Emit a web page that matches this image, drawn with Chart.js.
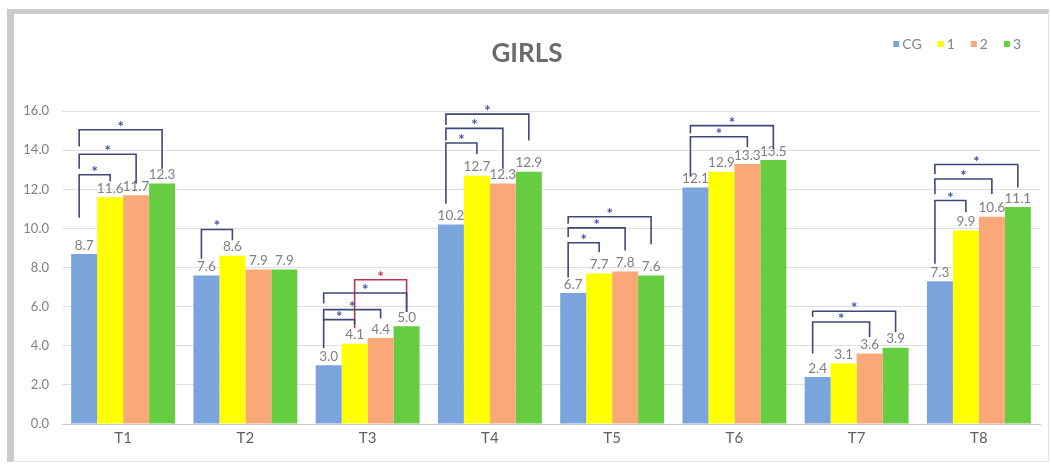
<!DOCTYPE html>
<html>
<head>
<meta charset="utf-8">
<script src="https://cdn.jsdelivr.net/npm/chart.js@4/dist/chart.umd.min.js"></script>
<style>
  html, body { margin: 0; padding: 0; background: #ffffff; }
  #wrap { position: relative; width: 1051px; height: 464px; overflow: hidden; }
  #frame {
    position: absolute; left: 7px; top: 9px; width: 1034px; height: 447px;
    border-left: 7px solid #cbcbcb; border-top: 5px solid #cbcbcb;
    border-right: 1px solid #e4e4e4; border-bottom: 1px solid #e4e4e4;
  }
  #chart { position: absolute; left: 0; top: 0; }
</style>
</head>
<body>
<div id="wrap">
  <div id="frame"></div>
  <canvas id="chart" width="1051" height="464"></canvas>
</div>
<script>
// Test categories and group means
const categories = ['T1', 'T2', 'T3', 'T4', 'T5', 'T6', 'T7', 'T8'];
const seriesNames = ['CG', '1', '2', '3'];
const cgValues    = [8.7, 7.6, 3.0, 10.2, 6.7, 12.1, 2.4, 7.3];
const g1Values    = [11.6, 8.6, 4.1, 12.7, 7.7, 12.9, 3.1, 9.9];
const g2Values    = [11.7, 7.9, 4.4, 12.3, 7.8, 13.3, 3.6, 10.6];
const g3Values    = [12.3, 7.9, 5.0, 12.9, 7.6, 13.5, 3.9, 11.1];
const yTicks      = [0, 2, 4, 6, 8, 10, 12, 14, 16];
const seriesColors = ['#7ba3dc', '#ffff00', '#fba878', '#66cc40'];

// Significance brackets: category, from-series, to-series,
// bracket height, where the left and right legs end (axis units), colour
const sigBrackets = [
  { cat: 0, from: 0, to: 3, top: 15.05, leftEnd: 14.2,  rightEnd: 13.05, red: false },
  { cat: 0, from: 0, to: 2, top: 13.8,  leftEnd: 13.05, rightEnd: 12.3,  red: false },
  { cat: 0, from: 0, to: 1, top: 12.75, leftEnd: 10.55, rightEnd: 12.4,  red: false },
  { cat: 1, from: 0, to: 1, top: 9.95,  leftEnd: 8.45,  rightEnd: 9.4,   red: false },
  { cat: 2, from: 1, to: 3, top: 7.38,  leftEnd: 4.9,   rightEnd: 5.73,  red: true  },
  { cat: 2, from: 0, to: 3, top: 6.7,   leftEnd: 6.17,  rightEnd: 5.73,  red: false },
  { cat: 2, from: 0, to: 2, top: 5.85,  leftEnd: 5.3,   rightEnd: 5.4,   red: false },
  { cat: 2, from: 0, to: 1, top: 5.34,  leftEnd: 3.88,  rightEnd: 5.1,   red: false },
  { cat: 3, from: 0, to: 3, top: 15.85, leftEnd: 15.3,  rightEnd: 14.5,  red: false },
  { cat: 3, from: 0, to: 2, top: 15.12, leftEnd: 14.5,  rightEnd: 13.06, red: false },
  { cat: 3, from: 0, to: 1, top: 14.37, leftEnd: 11.27, rightEnd: 13.8,  red: false },
  { cat: 4, from: 0, to: 3, top: 10.6,  leftEnd: 10.24, rightEnd: 9.2,   red: false },
  { cat: 4, from: 0, to: 2, top: 10.03, leftEnd: 9.56,  rightEnd: 8.88,  red: false },
  { cat: 4, from: 0, to: 1, top: 9.27,  leftEnd: 7.5,   rightEnd: 8.79,  red: false },
  { cat: 5, from: 0, to: 3, top: 15.26, leftEnd: 14.87, rightEnd: 14.07, red: false },
  { cat: 5, from: 0, to: 2, top: 14.69, leftEnd: 12.65, rightEnd: 14.15, red: false },
  { cat: 6, from: 0, to: 3, top: 5.77,  leftEnd: 5.47,  rightEnd: 4.71,  red: false },
  { cat: 6, from: 0, to: 2, top: 5.22,  leftEnd: 3.6,   rightEnd: 4.45,  red: false },
  { cat: 7, from: 0, to: 3, top: 13.27, leftEnd: 12.79, rightEnd: 12.1,  red: false },
  { cat: 7, from: 0, to: 2, top: 12.53, leftEnd: 11.77, rightEnd: 11.77, red: false },
  { cat: 7, from: 0, to: 1, top: 11.43, leftEnd: 8.2,   rightEnd: 10.83, red: false }
];

const FONT = 'Lato, "Open Sans", sans-serif';
const allValues = [cgValues, g1Values, g2Values, g3Values];

// Value labels above each bar
const valueLabels = {
  id: 'valueLabels',
  afterDatasetsDraw(chart) {
    const ctx = chart.ctx;
    ctx.save();
    ctx.font = '13.5px ' + FONT;
    ctx.fillStyle = '#808080';
    ctx.textAlign = 'center';
    ctx.textBaseline = 'bottom';
    chart.data.datasets.forEach((ds, di) => {
      const meta = chart.getDatasetMeta(di);
      meta.data.forEach((bar, i) => {
        ctx.fillText(ds.data[i].toFixed(1), bar.x, bar.y - 2);
      });
    });
    ctx.restore();
  }
};

// Brackets with asterisks marking significant pairs
const sigMarks = {
  id: 'sigMarks',
  afterDatasetsDraw(chart) {
    const ctx = chart.ctx;
    const y = chart.scales.y;
    ctx.save();
    ctx.lineWidth = 1.6;
    ctx.lineJoin = 'miter';
    sigBrackets.forEach(b => {
      const fromBar = chart.getDatasetMeta(b.from).data[b.cat];
      const toBar = chart.getDatasetMeta(b.to).data[b.cat];
      const x1 = fromBar.x - (b.from === 0 ? 5 : 0);
      const x2 = toBar.x;
      const yt = y.getPixelForValue(b.top);
      ctx.strokeStyle = b.red ? '#b8354f' : '#3f4979';
      ctx.beginPath();
      ctx.moveTo(x1, y.getPixelForValue(b.leftEnd));
      ctx.lineTo(x1, yt);
      ctx.lineTo(x2, yt);
      ctx.lineTo(x2, y.getPixelForValue(b.rightEnd));
      ctx.stroke();
      ctx.fillStyle = b.red ? '#d8304a' : '#4050b0';
      ctx.font = 'bold 15px ' + FONT;
      ctx.textAlign = 'center';
      ctx.textBaseline = 'alphabetic';
      ctx.fillText('*', (x1 + x2) / 2, yt + 2);
    });
    ctx.restore();
  }
};

// Compact legend in the top right corner
const cornerLegend = {
  id: 'cornerLegend',
  afterDraw(chart) {
    const ctx = chart.ctx;
    ctx.save();
    ctx.font = '14px ' + FONT;
    ctx.textBaseline = 'middle';
    ctx.textAlign = 'left';
    const cy = 44;
    const box = 6;
    const itemGap = 16;
    const widths = chart.data.datasets.map(ds => box + 3 + ctx.measureText(ds.label).width);
    const total = widths.reduce((a, w) => a + w, 0) + itemGap * (widths.length - 1);
    let x = 1021 - total;
    chart.data.datasets.forEach((ds, i) => {
      ctx.fillStyle = ds.backgroundColor;
      ctx.fillRect(x, cy - box / 2, box, box);
      ctx.fillStyle = '#858585';
      ctx.fillText(ds.label, x + box + 3, cy);
      x += widths[i] + itemGap;
    });
    ctx.restore();
  }
};

new Chart(document.getElementById('chart'), {
  type: 'bar',
  data: {
    labels: categories,
    datasets: seriesNames.map((name, i) => ({
      label: name,
      data: allValues[i],
      backgroundColor: seriesColors[i],
      borderWidth: 0,
      categoryPercentage: 0.85,
      barPercentage: 1.0
    }))
  },
  options: {
    responsive: false,
    animation: false,
    layout: { padding: { left: 14, right: 11, top: 0, bottom: 0 } },
    plugins: {
      legend: { display: false },
      tooltip: { enabled: false },
      title: {
        display: true,
        text: 'GIRLS',
        color: '#6b6b6b',
        font: { family: FONT, size: 26, weight: 'bold' },
        padding: { top: 38, bottom: 42 }
      }
    },
    scales: {
      x: {
        grid: { display: false, drawTicks: false },
        border: { display: true, color: '#c8c8c8', width: 1 },
        ticks: { color: '#5f5f5f', font: { family: FONT, size: 15 }, padding: 5 },
        afterFit(s) { s.height = 40; }
      },
      y: {
        min: 0,
        max: 16,
        afterBuildTicks(s) { s.ticks = yTicks.map(v => ({ value: v })); },
        grid: { color: '#dedede', drawTicks: false, lineWidth: 1 },
        border: { display: false },
        ticks: {
          color: '#808080',
          font: { family: FONT, size: 13 },
          padding: 13,
          callback: v => Number(v).toFixed(1)
        },
        afterFit(s) { s.width = 48; }
      }
    }
  },
  plugins: [valueLabels, sigMarks, cornerLegend]
});
</script>
</body>
</html>
